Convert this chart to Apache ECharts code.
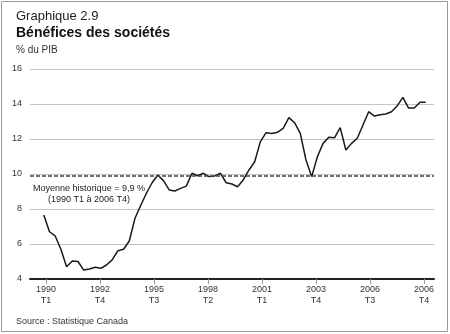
<!DOCTYPE html>
<html><head><meta charset="utf-8">
<script src="https://cdn.jsdelivr.net/npm/echarts@6/dist/echarts.min.js"></script>
<style>html,body{margin:0;padding:0;background:#fff}#c{width:450px;height:334px}</style>
</head><body><div id="c"></div>
<script>
// Quarterly values, 1990 T1 .. 2006 T4 (% of GDP)
var values = [7.66,6.70,6.46,5.70,4.70,5.03,5.00,4.51,4.57,4.67,4.61,4.80,5.09,5.62,5.70,6.17,
  7.47,8.20,8.90,9.50,9.94,9.62,9.09,9.03,9.18,9.31,10.04,9.90,10.04,9.85,9.89,10.04,
  9.50,9.43,9.27,9.66,10.23,10.70,11.85,12.36,12.32,12.38,12.61,13.22,12.93,12.32,10.80,9.85,
  10.99,11.75,12.10,12.07,12.65,11.37,11.75,12.04,12.80,13.56,13.31,13.39,13.43,13.56,13.89,14.38,
  13.77,13.77,14.10,14.10];
var tickLabels = ["1990\nT1","1992\nT4","1995\nT3","1998\nT2","2001\nT1","2003\nT4","2006\nT3","2006\nT4"];
var average = 9.9;
var yTicks = [4,6,8,10,12,14,16];

var seriesData = values.map(function(v,i){return [i,v];});
var n = tickLabels.length;
var firstPos = 0.39, lastPos = 66.7;
var labelPos = tickLabels.map(function(_,k){return firstPos + k*(lastPos-firstPos)/(n-1);});
function labelFor(v){
  var best=0,bd=1e9;
  labelPos.forEach(function(p,k){var d=Math.abs(p-v);if(d<bd){bd=d;best=k;}});
  return tickLabels[best];
}
var FONT = '"Liberation Sans", Arial, Helvetica, sans-serif';
var chart = echarts.init(document.getElementById('c'), null, {renderer:'canvas'});
chart.setOption({
  animation:false,
  backgroundColor:'#fff',
  textStyle:{fontFamily:FONT},
  grid:{left:30,right:16,top:69,bottom:55},
  xAxis:{
    type:'value', min:-2.42, max:68.46,
    splitLine:{show:false},
    axisLine:{show:true,onZero:false,lineStyle:{color:'#222',width:2}},
    axisTick:{show:true,customValues:labelPos,length:5,lineStyle:{color:'#999',width:1}},
    axisLabel:{customValues:labelPos,formatter:function(v){return labelFor(v);},
      color:'#333',fontSize:9,lineHeight:11,margin:5,fontFamily:FONT}
  },
  yAxis:{
    type:'value', min:yTicks[0], max:yTicks[yTicks.length-1], interval:2,
    axisLine:{show:false}, axisTick:{show:false},
    axisLabel:{color:'#333',fontSize:9,margin:8,fontFamily:FONT},
    splitLine:{show:true,lineStyle:{color:'#c4c4c4',width:1}}
  },
  series:[{
    type:'line', data:seriesData, symbol:'none',
    lineStyle:{color:'#1a1a1a',width:1.5},
    markLine:{silent:true,symbol:['none','none'],label:{show:false},
      lineStyle:{color:'#444',type:[4,2],width:1.5},
      data:[{yAxis:average}]}
  }],
  graphic:[
    {type:'rect',shape:{x:1.5,y:1.5,width:446,height:330},style:{fill:'none',stroke:'#999',lineWidth:1}},
    {type:'text',left:16,top:10,style:{text:'Graphique 2.9',font:'13px '+FONT,fill:'#222'}},
    {type:'text',left:16,top:26,style:{text:'Bénéfices des sociétés',font:'bold 14px '+FONT,fill:'#111'}},
    {type:'text',left:16,top:45,style:{text:'% du PIB',font:'10px '+FONT,fill:'#333'}},
    {type:'text',left:16,top:317,style:{text:'Source : Statistique Canada',font:'9px '+FONT,fill:'#333'}},
    {type:'text',x:89,y:183,style:{text:'Moyenne historique = 9,9 %\n(1990 T1 à 2006 T4)',font:'9px '+FONT,lineHeight:11,align:'center',fill:'#222',backgroundColor:'#fff'}}
  ]
});
</script></body></html>
